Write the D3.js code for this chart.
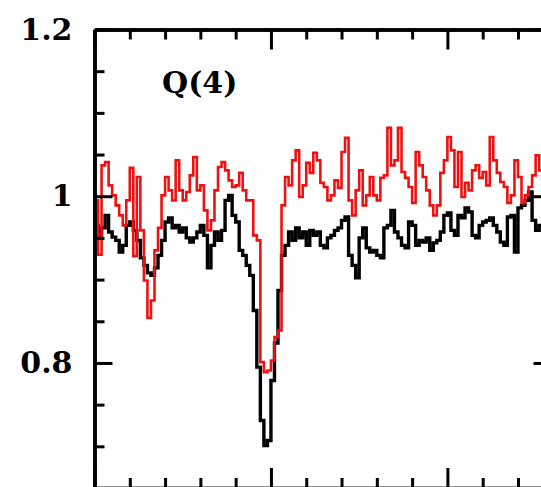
<!DOCTYPE html>
<html>
<head>
<meta charset="utf-8">
<script src="https://cdn.jsdelivr.net/npm/d3@7"></script>
<style>
  html, body { margin: 0; padding: 0; background: #fff; }
  svg { display: block; }
</style>
</head>
<body>
<svg id="chart" width="541" height="487"></svg>
<script>
// ---- data (bin index along the spectrum, normalised flux) ----
const panelLabel = "Q(4)";
const yMajorTicks = [0.8, 1.0, 1.2];
const yMinorTicks = [0.65, 0.7, 0.75, 0.85, 0.9, 0.95, 1.05, 1.1, 1.15];
const xMajorTicks = [0, 50, 100];
const xMinorTicks = [10, 20, 30, 40, 60, 70, 80, 90, 110, 120];

const blackFlux = [
  0.965,0.953,0.962,0.977,0.957,0.951,0.947,0.933,0.941,0.965,
  0.969,0.959,0.947,0.926,0.917,0.908,0.905,0.914,0.929,0.947,
  0.969,0.974,0.962,0.965,0.957,0.962,0.950,0.945,0.950,0.957,
  0.965,0.953,0.914,0.941,0.957,0.947,0.959,0.995,1.001,0.977,
  0.969,0.935,0.929,0.917,0.905,0.863,0.795,0.731,0.701,0.707,
  0.779,0.824,0.887,0.929,0.941,0.957,0.947,0.962,0.950,0.957,
  0.941,0.959,0.953,0.957,0.941,0.938,0.950,0.953,0.959,0.962,
  0.971,0.975,0.929,0.917,0.902,0.950,0.962,0.938,0.933,0.935,
  0.929,0.926,0.962,0.965,0.983,0.957,0.950,0.941,0.938,0.969,
  0.965,0.941,0.947,0.945,0.950,0.935,0.944,0.947,0.957,0.977,
  0.980,0.959,0.953,0.977,0.974,0.986,0.981,0.953,0.950,0.965,
  0.969,0.971,0.974,0.965,0.957,0.945,0.941,0.975,0.977,0.933,
  0.986,0.989,0.995,1.005,0.971,0.959,0.965
];

const redFlux = [
  0.995,0.930,1.037,1.041,1.013,1.001,0.989,0.977,0.965,0.995,
  1.034,0.928,1.023,0.959,0.899,0.854,0.875,0.935,0.962,1.001,
  1.023,1.007,0.995,1.043,1.007,0.995,1.005,1.025,1.047,1.007,
  1.013,0.983,0.959,0.971,1.007,1.035,1.041,1.031,1.019,1.011,
  1.013,1.028,1.007,0.995,0.995,0.953,0.947,0.801,0.789,0.791,
  0.803,0.831,0.839,0.989,1.023,1.013,1.043,1.055,0.999,1.013,
  1.040,1.028,1.052,1.043,1.016,1.011,0.995,1.001,1.019,1.010,
  1.053,1.070,0.995,0.977,1.007,1.031,0.989,1.001,1.023,1.001,
  0.995,1.022,1.025,1.082,1.037,1.043,1.082,1.029,1.022,1.011,
  0.992,1.053,1.037,1.023,1.007,0.989,0.977,0.989,1.028,1.043,
  1.071,1.055,1.011,1.053,0.999,1.016,1.007,1.031,1.037,1.022,
  1.029,1.013,1.071,1.043,1.028,1.017,1.011,0.992,1.001,1.043,
  1.023,0.992,1.001,1.011,1.025,1.049,1.031
];

// ---- layout ----
const svg = d3.select("#chart");
const pL = 94.5, pR = 551.5, pT = 29.5, pB = 488;
const x = d3.scaleLinear().domain([0, 129.5]).range([pL, pR]);
const y = d3.scaleLinear().domain([0.65, 1.2]).range([pB, pT]);

svg.append("defs").append("clipPath").attr("id", "plotclip")
  .append("rect").attr("x", pL).attr("y", pT).attr("width", pR - pL).attr("height", pB - pT);

// ---- spectra as step histograms ----
function stepPoints(arr) {
  const pts = arr.map((v, i) => [i, v]);
  pts.push([arr.length, arr[arr.length - 1]]);
  return pts;
}
const line = d3.line().x(d => x(d[0])).y(d => y(d[1])).curve(d3.curveStepAfter);

const g = svg.append("g").attr("clip-path", "url(#plotclip)");
g.append("path").datum(stepPoints(blackFlux))
  .attr("d", line).attr("fill", "none").attr("stroke", "#000")
  .attr("stroke-width", 3.4).attr("stroke-linejoin", "miter");
g.append("path").datum(stepPoints(redFlux))
  .attr("d", line).attr("fill", "none").attr("stroke", "#ee1111")
  .attr("stroke-width", 2.6).attr("stroke-linejoin", "miter");

// ---- axes (ticks pointing inward) ----
function styleAxis(sel) {
  sel.selectAll("path.domain").attr("stroke", "#000").attr("stroke-width", 3.5);
  sel.selectAll(".tick line").attr("stroke", "#000").attr("stroke-width", 3);
}
const fontFam = "'DejaVu Serif', serif";

// left
svg.append("g").attr("transform", `translate(${pL},0)`)
  .call(d3.axisLeft(y).tickValues(yMinorTicks).tickSize(-10).tickSizeOuter(0).tickFormat(""))
  .call(styleAxis);
const leftMaj = svg.append("g").attr("transform", `translate(${pL},0)`)
  .call(d3.axisLeft(y).tickValues(yMajorTicks).tickSize(-18).tickSizeOuter(0)
    .tickPadding(22).tickFormat(d => String(d)))
  .call(styleAxis);
leftMaj.selectAll(".tick text")
  .attr("font-family", fontFam).attr("font-weight", "bold")
  .attr("font-size", 30).attr("fill", "#000");

// right
svg.append("g").attr("transform", `translate(${pR},0)`)
  .call(d3.axisRight(y).tickValues(yMinorTicks).tickSize(-10).tickSizeOuter(0).tickFormat(""))
  .call(styleAxis);
svg.append("g").attr("transform", `translate(${pR},0)`)
  .call(d3.axisRight(y).tickValues(yMajorTicks).tickSize(-18).tickSizeOuter(0).tickFormat(""))
  .call(styleAxis);

// top
svg.append("g").attr("transform", `translate(0,${pT})`)
  .call(d3.axisTop(x).tickValues(xMinorTicks).tickSize(-10).tickSizeOuter(0).tickFormat(""))
  .call(styleAxis);
svg.append("g").attr("transform", `translate(0,${pT})`)
  .call(d3.axisTop(x).tickValues(xMajorTicks).tickSize(-20).tickSizeOuter(0).tickFormat(""))
  .call(styleAxis);

// bottom
svg.append("g").attr("transform", `translate(0,${pB})`)
  .call(d3.axisBottom(x).tickValues(xMinorTicks).tickSize(-10).tickSizeOuter(0).tickFormat(""))
  .call(styleAxis);
svg.append("g").attr("transform", `translate(0,${pB})`)
  .call(d3.axisBottom(x).tickValues(xMajorTicks).tickSize(-20).tickSizeOuter(0).tickFormat(""))
  .call(styleAxis);

// panel label
svg.append("text").attr("x", 162).attr("y", 93)
  .attr("font-family", fontFam).attr("font-weight", "bold")
  .attr("font-size", 30).attr("fill", "#000")
  .text(panelLabel);
</script>
</body>
</html>
